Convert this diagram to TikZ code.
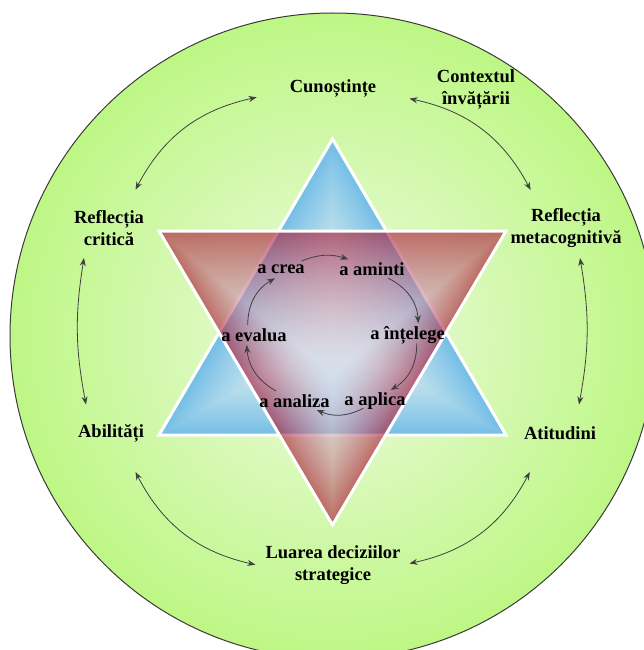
\documentclass[tikz,border=0pt]{standalone}
\usepackage{fontspec}
\setmainfont{Liberation Serif}
\usetikzlibrary{arrows.meta}
\definecolor{ringline}{HTML}{3A3A3A}
\definecolor{greenin}{HTML}{EEFAE2}
\definecolor{greenout}{HTML}{BEF785}
\definecolor{bluein}{HTML}{D8ECF0}
\definecolor{blueout}{HTML}{74BEE6}
\definecolor{redin}{HTML}{DCDCEA}
\definecolor{redout}{HTML}{AE1C38}
\definecolor{arrowgray}{HTML}{404040}
\tikzset{
  lbl/.style={font=\fontsize{18.5}{22}\selectfont\bfseries, align=center, inner sep=0pt},
  link/.style={draw=arrowgray, line width=0.8pt,
    {Stealth[length=8pt,width=6pt]}-{Stealth[length=8pt,width=6pt]}},
  cyc/.style={draw=arrowgray, line width=0.8pt, -{Stealth[length=8pt,width=6pt]}},
  rim/.style={white, line width=3pt, line join=miter},
}
\begin{document}
\begin{tikzpicture}[x=1pt,y=-1pt]
\useasboundingbox (0,0) rectangle (644,650);
\fill[white] (0,0) rectangle (644,650);

% green disc
\begin{scope}
  \clip (0,0) rectangle (644,650);
  \shade[inner color=greenin, outer color=greenout] (333,336) circle[radius=323];
  \draw[ringline, line width=1pt] (333,336) circle[radius=323];
\end{scope}

% upward triangle: colour runs from its centre out to the edges
\foreach \i in {0,...,47} {
  \pgfmathsetmacro\s{1-\i/48}
  \pgfmathsetmacro\p{100*\s^1.8}
  \fill[blueout!\p!bluein, shift={(332.5,336)}, scale=\s]
    (0,-197) -- (-173.5,99) -- (173.5,99) -- cycle;
}
\draw[rim] (332.5,139) -- (159,435) -- (506,435) -- cycle;

% downward triangle, translucent over the upward one
\begin{scope}[transparency group, opacity=0.63]
  \foreach \i in {0,...,47} {
    \pgfmathsetmacro\s{1-\i/48}
    \pgfmathsetmacro\p{100*\s^1.6}
    \fill[redout!\p!redin, shift={(332.5,375)}, scale=\s]
      (-173.5,-144) -- (173.5,-144) -- (0,150) -- cycle;
  }
\end{scope}
\draw[rim] (159,231) -- (506,231) -- (332.5,525) -- cycle;

% outer ring of labels
\node[lbl] (cun)  at (333,88)  {Cunoștințe};
\node[lbl] (ctx)  at (476,89)  {Contextul\\învățării};
\node[lbl] (crit) at (109,228) {Reflecția\\critică};
\node[lbl] (meta) at (566,228) {Reflecția\\metacognitivă};
\node[lbl] (abil) at (111,433) {Abilități};
\node[lbl] (atit) at (560,433) {Atitudini};
\node[lbl] (luar) at (333,565) {Luarea deciziilor\\strategice};

% inner cycle of labels
\node[lbl] (crea) at (281,269)   {a crea};
\node[lbl] (amin) at (372,269)   {a aminti};
\node[lbl] (inte) at (407.5,335) {a înțelege};
\node[lbl] (apli) at (375,401)   {a aplica};
\node[lbl] (anal) at (294.5,401) {a analiza};
\node[lbl] (eval) at (254,335)   {a evalua};

% two-way links between outer labels
\draw[link] ([shift={(-76.3,9.3)}]cun.center)  to[bend right=25] ([shift={(26.5,-38.3)}]crit.center);
\draw[link] ([shift={(76.5,10.6)}]cun.center)  to[bend left=25]  ([shift={(-35.4,-38)}]meta.center);
\draw[link] ([shift={(-25,30)}]crit.center)    to[bend right=10] ([shift={(-25,-28.5)}]abil.center);
\draw[link] ([shift={(14,30)}]meta.center)     to[bend left=10]  ([shift={(19,-28.5)}]atit.center);
\draw[link] ([shift={(24.5,39)}]abil.center)   to[bend right=25] ([shift={(-77.6,-0.3)}]luar.center);
\draw[link] ([shift={(-30.2,39)}]atit.center)  to[bend left=25]  ([shift={(76.5,-1.5)}]luar.center);

% one-way cycle in the middle
\draw[cyc] ([shift={(20.7,-8)}]crea.center)   to[bend left=20] ([shift={(-23.7,-9.7)}]amin.center);
\draw[cyc] ([shift={(16.3,9.3)}]amin.center)  to[bend left=30] ([shift={(10.8,-11.7)}]inte.center);
\draw[cyc] ([shift={(9.2,8.3)}]inte.center)   to[bend left=30] ([shift={(15.7,-11)}]apli.center);
\draw[cyc] ([shift={(-11.7,7.3)}]apli.center) to[bend left=25] ([shift={(22.2,9)}]anal.center);
\draw[cyc] ([shift={(-18.5,-10)}]anal.center) to[bend left=28] ([shift={(-7.3,10)}]eval.center);
\draw[cyc] ([shift={(-6.3,-10)}]eval.center)  to[bend left=30] ([shift={(-6,9.3)}]crea.center);
\end{tikzpicture}
\end{document}
